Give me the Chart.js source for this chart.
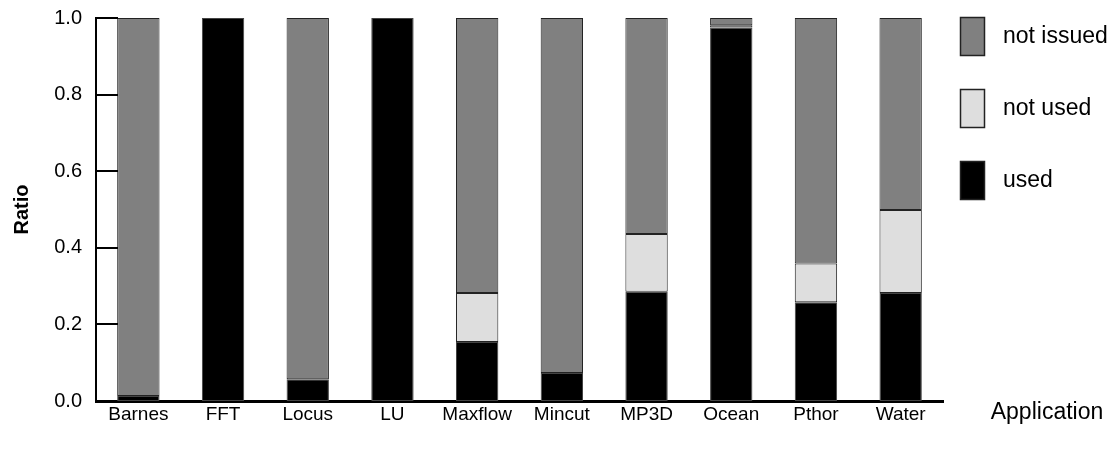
<!DOCTYPE html>
<html>
<head>
<meta charset="utf-8">
<script src="https://cdn.jsdelivr.net/npm/chart.js@4.4.1/dist/chart.umd.min.js"></script>
<style>
  html, body { margin: 0; padding: 0; background: #fff; }
  #wrap { width: 1114px; height: 453px; }
</style>
</head>
<body>
<div id="wrap"><canvas id="c" width="1114" height="453"></canvas></div>
<script>
const categories = ['Barnes', 'FFT', 'Locus', 'LU', 'Maxflow', 'Mincut', 'MP3D', 'Ocean', 'Pthor', 'Water'];
const used      = [0.013, 1.000, 0.057, 1.000, 0.154, 0.073, 0.285, 0.975, 0.258, 0.282];
const notUsed   = [null,  null,  null,  null,  0.128, null,  0.151, 0.006, 0.101, 0.217];
const notIssued = [0.987, null,  0.943, null,  0.718, 0.927, 0.564, 0.019, 0.641, 0.501];
const yTicks = [0, 0.2, 0.4, 0.6, 0.8, 1.0];

const FONT = '"Liberation Sans", Arial, Helvetica, sans-serif';

// inward tick marks on the y axis, the legend and the "Application" caption
const decorations = {
  id: 'decorations',
  afterDraw(chart) {
    const ctx = chart.ctx;
    const area = chart.chartArea;
    const y = chart.scales.y;
    ctx.save();
    ctx.strokeStyle = '#000';
    ctx.lineWidth = 2;
    yTicks.forEach(v => {
      if (v === 0) return;
      const py = Math.round(y.getPixelForValue(v));
      ctx.beginPath();
      ctx.moveTo(area.left, py);
      ctx.lineTo(area.left + 22, py);
      ctx.stroke();
    });

    // legend, top-down: last dataset first
    const items = chart.data.datasets.slice().reverse();
    const bx = 960, bw = 25, bh = 39, gap = 72, top0 = 17;
    ctx.font = '23px ' + FONT;
    ctx.textBaseline = 'middle';
    ctx.textAlign = 'left';
    items.forEach((ds, i) => {
      const by = top0 + i * gap;
      ctx.fillStyle = ds.backgroundColor;
      ctx.fillRect(bx, by, bw, bh);
      ctx.lineWidth = 1.5;
      ctx.strokeStyle = '#222';
      ctx.strokeRect(bx + 0.5, by + 0.5, bw - 1, bh - 1);
      ctx.fillStyle = '#000';
      ctx.fillText(ds.label, 1003, by + bh / 2);
    });

    ctx.textAlign = 'center';
    ctx.fillText('Application', 1047, 413);
    ctx.restore();
  }
};

new Chart(document.getElementById('c'), {
  type: 'bar',
  data: {
    labels: categories,
    datasets: [
      { label: 'used', data: used, backgroundColor: '#000000', borderColor: '#444', borderWidth: 1 },
      { label: 'not used', data: notUsed, backgroundColor: '#dedede', borderColor: '#222', borderWidth: 1 },
      { label: 'not issued', data: notIssued, backgroundColor: '#808080', borderColor: '#222', borderWidth: 1 }
    ]
  },
  options: {
    responsive: false,
    animation: false,
    layout: { padding: { top: 18, right: 171, left: 0, bottom: 0 } },
    datasets: { bar: { categoryPercentage: 1.0, barPercentage: 0.5, borderSkipped: false } },
    plugins: { legend: { display: false }, tooltip: { enabled: false } },
    scales: {
      x: {
        stacked: true,
        grid: { display: false, drawTicks: false },
        border: { display: true, color: '#000', width: 3 },
        ticks: { color: '#000', font: { family: FONT, size: 19 }, padding: 2, maxRotation: 0, autoSkip: false },
        afterFit(s) { s.height = 52; s.paddingLeft = 0; s.paddingRight = 0; }
      },
      y: {
        stacked: true,
        min: 0, max: 1,
        afterBuildTicks(s) { s.ticks = yTicks.map(v => ({ value: v })); },
        grid: { display: false, drawTicks: false },
        border: { display: true, color: '#000', width: 2 },
        ticks: {
          color: '#000', font: { family: FONT, size: 20 }, padding: 14,
          callback: v => Number(v).toFixed(1)
        },
        title: { display: true, text: 'Ratio', color: '#000', font: { family: FONT, size: 20, weight: 'bold' }, padding: { top: 10, bottom: 0 } },
        afterFit(s) { s.width = 96; s.paddingTop = 0; s.paddingBottom = 0; }
      }
    }
  },
  plugins: [decorations]
});
</script>
</body>
</html>
